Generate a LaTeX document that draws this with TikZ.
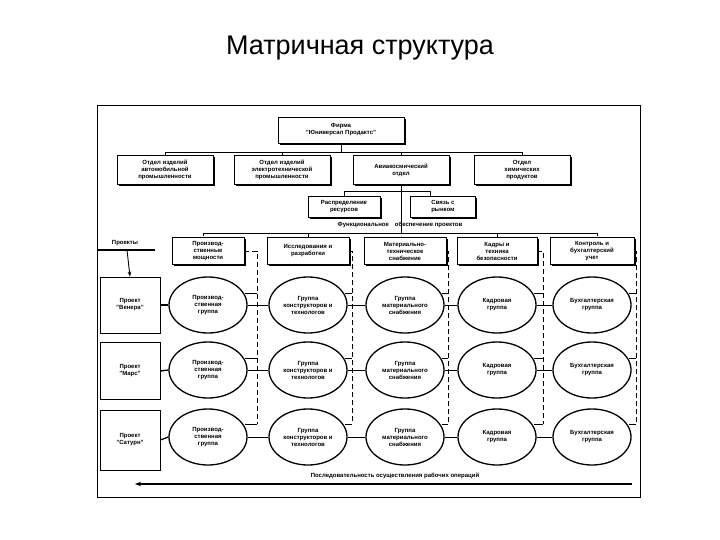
\documentclass[tikz,border=0pt]{standalone}
\usepackage{fontspec}
\setmainfont{Liberation Sans}
\usetikzlibrary{shapes.geometric,shadows,arrows.meta}
\begin{document}
\begin{tikzpicture}[x=1pt,y=-1pt,
  lbl/.style={font=\bfseries\fontsize{6}{7}\selectfont,align=center},
  box/.style={lbl,draw,thick,fill=white,inner sep=1pt,drop shadow={shadow xshift=1.8pt,shadow yshift=-1.8pt,fill=black,opacity=1}},
  ell/.style={lbl,draw,line width=1.3pt,ellipse,fill=white,minimum width=78pt,minimum height=56pt,inner sep=0pt},
  pbox/.style={lbl,draw,thick,minimum width=60pt,inner sep=1pt},
  ln/.style={line width=0.9pt},
  dsh/.style={line width=0.9pt,dash pattern=on 5pt off 3pt}]
\useasboundingbox (0,0) rectangle (720,540);
\node (title) at (360,48) {\fontsize{27}{30}\selectfont Матричная структура};
\draw[line width=1pt] (97,106) rectangle (640,497);
% top
\node[box,minimum width=126pt,minimum height=26pt] (firm) at (341,130) {Фирма\\"Юниверсал Продактс"};
\foreach \n/\x/\t in {a/165/{Отдел изделий\\автомобильной\\промышленности},
  b/282/{Отдел изделий\\электротехнической\\промышленности},
  c/401/{Авиакосмический\\отдел},
  d/522/{Отдел\\химических\\продуктов}}
  \node[box,minimum width=96pt,minimum height=29pt] (\n) at (\x,170) {\t};
\draw[ln] (firm.south) -- (341,152);
\draw[ln] (a.north) |- (d.north |- 0,152) -- (d.north);
\draw[ln] (b.north) -- (b.north |- 0,152);
\draw[ln] (c.north) -- (c.north |- 0,152);
\node[box,minimum width=72pt,minimum height=21pt] (res) at (344,207) {Распределение\\ресурсов};
\node[box,minimum width=65pt,minimum height=21pt] (mkt) at (443,207) {Связь с\\рынком};
\draw[ln] (res.north) |- (430,191) -- (430,197);
\draw[ln] (c.south) -- (401,233);
\node[lbl] (fun) at (400,225) {Функциональное\quad обеспечение проектов};
\draw[ln] (203,236) -- (203,233) -- (597,233) -- (597,236);
\foreach \n/\x/\w/\t in {f1/208/72/{Производ-\\ственные\\мощности},
  f2/308/82/{Исследования и\\разработки},
  f3/405/82/{Материально-\\техническое\\снабжение},
  f4/497/80/{Кадры и\\техника\\безопасности},
  f5/592/84/{Контроль и\\бухгалтерский\\учет}}
  \node[box,minimum width=\w pt,minimum height=27pt] (\n) at (\x,251) {\t};
\draw[ln] (308,233) -- (f2.north);
\draw[ln] (497,233) -- (f4.north);
% projects
\node[lbl] (pr) at (125,243) {Проекты};
\draw[line width=1.5pt] (97,250) -- (155,250);
\coordinate (prarr) at (127,250);
\foreach \n/\y/\h/\t in {p1/305/56/{Проект\\"Венера"},p2/371/57/{Проект\\"Марс"},p3/440/60/{Проект\\"Сатурн"}}
  \node[pbox,minimum height=\h pt] (\n) at (130,\y) {\t};
\draw[ln,-{Stealth[length=5pt]}] (prarr) -- (p1.north);
% ellipses
\foreach \r/\y/\g/\m/\k/\b in {1/305/{Производ-\\ственная\\группа}/{Группа\\материального\\снабжения}/{Кадровая\\группа}/{Бухгалтерская\\группа},
  2/370/{Производ-\\ственная\\группа}/{Группа\\материального\\снабжения}/{Кадровая\\группа}/{Бухгалтерская\\группа},
  3/437/{Производ-\\ственная\\группа}/{Группа\\материального\\снабжения}/{Кадровая\\группа}/{Бухгалтерская\\группа}}{
  \node[ell] (e\r1) at (208,\y) {\g};
  \node[ell] (e\r2) at (308,\y) {Группа\\конструкторов и\\технологов};
  \node[ell] (e\r3) at (405,\y) {\m};
  \node[ell] (e\r4) at (497,\y) {\k};
  \node[ell] (e\r5) at (592,\y) {\b};
  \draw[line width=1.3pt] (p\r.east) -- (e\r1.west);
  \draw[ln] (e\r1) -- (e\r2); \draw[ln] (e\r2) -- (e\r3);
  \draw[ln] (e\r3) -- (e\r4); \draw[ln] (e\r4) -- (e\r5);
}
% dashed verticals and stubs
\foreach \i/\x in {1/257,2/352,3/448,4/543,5/636}{
  \draw[dsh] (f\i.east) -| (\x,424);
  \foreach \r/\y in {1/293,2/358}
    \draw[ln] (e\r\i.east |- 0,\y) ++(-3,0) -- (\x,\y);
  \draw[ln] (e3\i.east |- 0,424) ++(-3,0) -- (\x,424);
}
\node[lbl] (seq) at (395,476) {Последовательность осуществления рабочих операций};
\coordinate (sr) at (632,484);
\coordinate (sl) at (135,484);
\draw[line width=1.2pt,-{Stealth[length=6pt]}] (sr) -- (sl);
\end{tikzpicture}
\end{document}
